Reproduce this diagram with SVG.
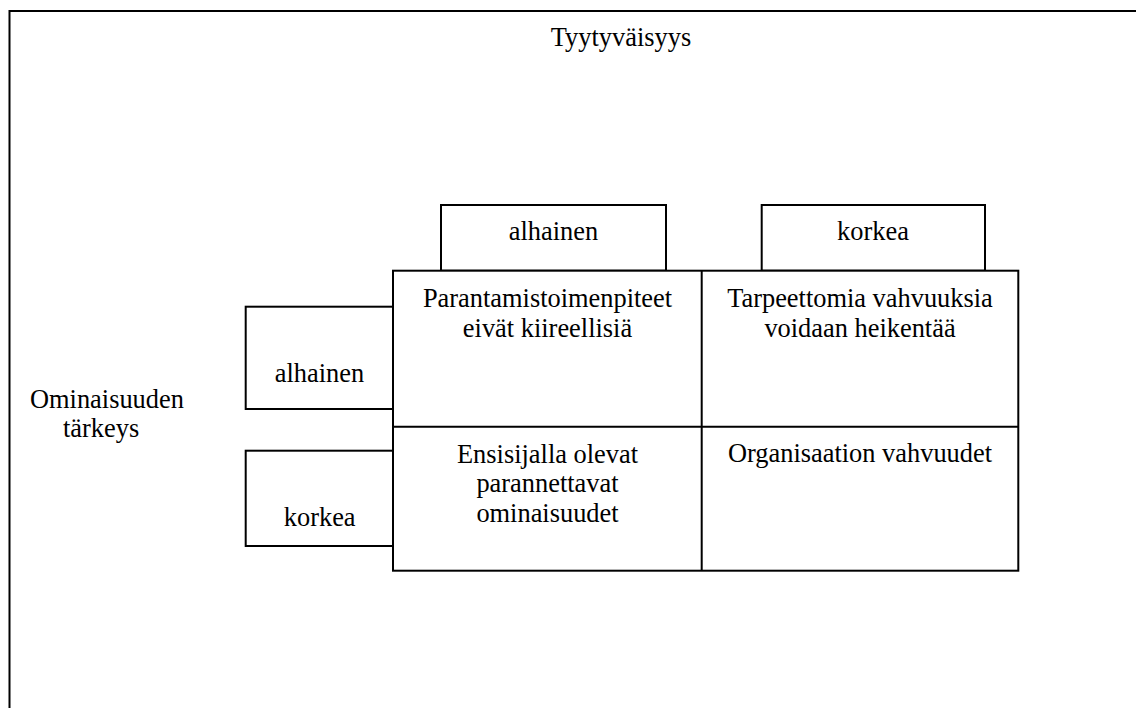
<svg xmlns="http://www.w3.org/2000/svg" width="1136" height="708" viewBox="0 0 1136 708">
<style>
  .ln { fill: none; stroke: #000; stroke-width: 2; }
  .box { fill: #fff; stroke: #000; stroke-width: 2; }
  text { font-size: 26.4px; fill: #000; }
  .c { text-anchor: middle; }
</style>
<rect width="1136" height="708" fill="#fff"/>
<path class="ln" d="M9.5,708 V11 H1136"/>
<g font-family="Liberation Serif, Tinos, Times New Roman, DejaVu Serif, serif">
<g id="title"><text class="c" x="621" y="46">Tyytyväisyys</text></g>
<g id="axis-left"><text x="30" y="408">Ominaisuuden</text><text x="63" y="437">tärkeys</text></g>
<g id="col-low"><rect class="box" x="441" y="205" width="225" height="65.7"/><text class="c" x="553.5" y="240">alhainen</text></g>
<g id="col-high"><rect class="box" x="761.7" y="205" width="223.3" height="65.7"/><text class="c" x="873" y="240">korkea</text></g>
<g id="row-low"><rect class="box" x="245.7" y="306.7" width="147.3" height="102.3"/><text class="c" x="319.4" y="382">alhainen</text></g>
<g id="row-high"><rect class="box" x="245.7" y="450.7" width="148" height="95.3"/><text class="c" x="319.7" y="526">korkea</text></g>
<g id="matrix">
  <rect class="box" x="393" y="270.7" width="625.3" height="300"/>
  <g id="connectors"><path class="ln" d="M701.7,270.7 V570.7 M393,426.7 H1018.3"/></g>
</g>
<g id="cell-ll"><text class="c" x="547.5" y="306.7">Parantamistoimenpiteet</text><text class="c" x="547.5" y="336.7">eivät kiireellisiä</text></g>
<g id="cell-lh"><text class="c" x="860" y="306.7">Tarpeettomia vahvuuksia</text><text class="c" x="860" y="336.7">voidaan heikentää</text></g>
<g id="cell-hl"><text class="c" x="547.5" y="462.5">Ensisijalla olevat</text><text class="c" x="547.5" y="492">parannettavat</text><text class="c" x="547.5" y="521.5">ominaisuudet</text></g>
<g id="cell-hh"><text class="c" x="860" y="462">Organisaation vahvuudet</text></g>
</g>
</svg>
